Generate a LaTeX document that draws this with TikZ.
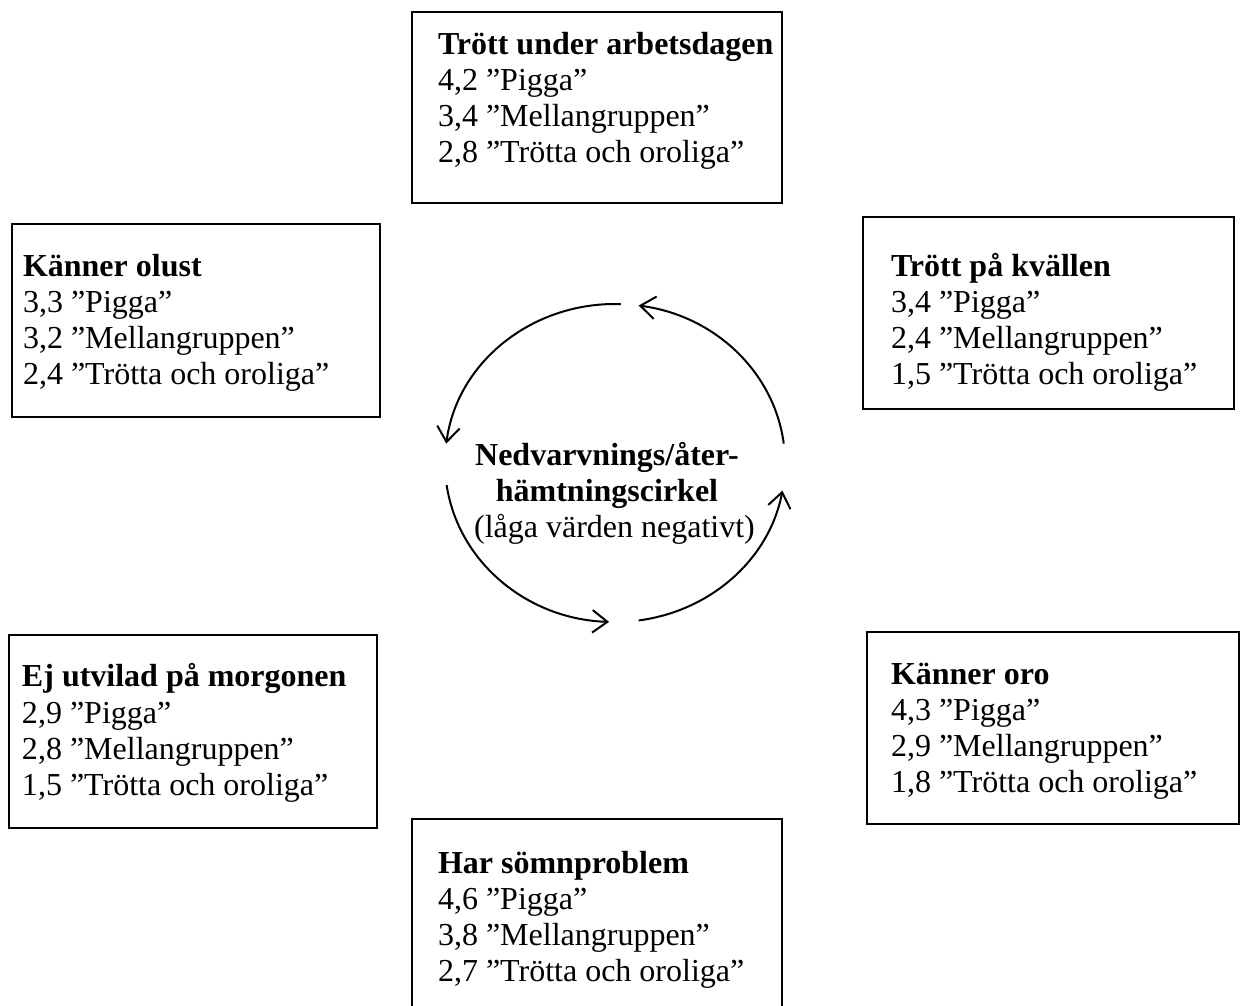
\documentclass[tikz,border=0pt]{standalone}
\usepackage{fontspec}
\setmainfont{Liberation Serif}
\usetikzlibrary{arrows.meta}

\begin{document}
\begin{tikzpicture}[x=0.4pt,y=-0.4pt,line width=0.8pt,
		lbl/.style={anchor=base west,align=left,inner sep=0pt,font=\fontsize{12.8}{14.4}\selectfont},
		cyc/.style={-{Straight Barb[length=6pt,width=9pt]}}]
		\useasboundingbox (0,0) rectangle (1242,1006);

		% Tired during the working day
		\draw (412,12) rectangle (782,203);
		\node[lbl] (arbete) at (437,163) {\textbf{Trött under arbetsdagen}\\4,2 ”Pigga”\\3,4 ”Mellangruppen”\\2,8 ”Trötta och oroliga”};

		% Reluctance
		\draw (12,224) rectangle (380,417);
		\node[lbl] (olust) at (22,385) {\textbf{Känner olust}\\3,3 ”Pigga”\\3,2 ”Mellangruppen”\\2,4 ”Trötta och oroliga”};

		% Tired in the evening
		\draw (863,217) rectangle (1234,409);
		\node[lbl] (kvall) at (890,385) {\textbf{Trött på kvällen}\\3,4 ”Pigga”\\2,4 ”Mellangruppen”\\1,5 ”Trötta och oroliga”};

		% Not rested in the morning
		\draw (9,635) rectangle (377,828);
		\node[lbl] (morgon) at (21,795) {\textbf{Ej utvilad på morgonen}\\2,9 ”Pigga”\\2,8 ”Mellangruppen”\\1,5 ”Trötta och oroliga”};

		% Worry
		\draw (867,632) rectangle (1239,824);
		\node[lbl] (oro) at (890,792) {\textbf{Känner oro}\\4,3 ”Pigga”\\2,9 ”Mellangruppen”\\1,8 ”Trötta och oroliga”};

		% Sleep problems
		\draw (412,1006) -- (412,819) -- (782,819) -- (782,1006);
		\node[lbl] (somn) at (437,981) {\textbf{Har sömnproblem}\\4,6 ”Pigga”\\3,8 ”Mellangruppen”\\2,7 ”Trötta och oroliga”};

		% Recovery cycle
		\coordinate (mitt) at (615,463);
		\draw[cyc] (mitt) ++(-88:170 and 159) arc[start angle=-88,end angle=-173,x radius=170,y radius=159];
		\draw[cyc] (mitt) ++(172:170 and 159) arc[start angle=172,end angle=92,x radius=170,y radius=159];
		\draw[cyc] (mitt) ++(82:170 and 159) arc[start angle=82,end angle=10,x radius=170,y radius=159];
		\draw[cyc] (mitt) ++(-7:170 and 159) arc[start angle=-7,end angle=-82,x radius=170,y radius=159];
		\node[anchor=base,align=center,inner sep=0pt,font=\fontsize{12.8}{14.4}\selectfont] (cirkel) at (607,537) {\textbf{Nedvarvnings/åter-}\\\textbf{hämtningscirkel}\\\hspace*{6pt}(låga värden negativt)};
	\end{tikzpicture}
\end{document}
